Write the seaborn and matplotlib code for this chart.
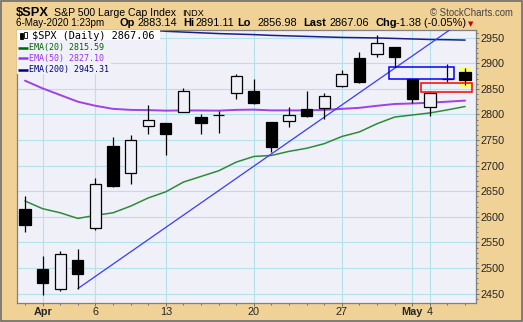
import numpy as np
import pandas as pd
import seaborn as sns
import matplotlib
matplotlib.use("Agg")
import matplotlib.pyplot as plt
from matplotlib.patches import Rectangle

# ---------------- data ----------------
days = ["Mar 31", "Apr 1", "Apr 2", "Apr 3", "Apr 6", "Apr 7", "Apr 8", "Apr 9",
        "Apr 13", "Apr 14", "Apr 15", "Apr 16", "Apr 17", "Apr 20", "Apr 21",
        "Apr 22", "Apr 23", "Apr 24", "Apr 27", "Apr 28", "Apr 29", "Apr 30",
        "May 1", "May 4", "May 5", "May 6"]
open_ = [2614.69, 2498.08, 2458.54, 2514.92, 2578.28, 2738.65, 2685.00, 2776.99,
         2782.46, 2805.10, 2795.64, 2799.34, 2842.43, 2845.62, 2784.81, 2787.89,
         2810.42, 2812.64, 2854.65, 2909.96, 2918.46, 2930.91, 2869.09, 2815.01,
         2868.88, 2883.14]
high = [2641.39, 2522.75, 2533.22, 2538.18, 2676.85, 2756.89, 2760.75, 2818.57,
        2782.46, 2851.85, 2801.88, 2806.51, 2879.22, 2868.98, 2785.54, 2815.10,
        2844.90, 2842.71, 2887.72, 2921.15, 2954.86, 2930.91, 2869.09, 2844.24,
        2898.23, 2891.11]
low = [2571.15, 2447.49, 2455.79, 2459.96, 2574.57, 2657.67, 2663.30, 2762.36,
       2721.17, 2805.10, 2761.54, 2764.32, 2830.88, 2820.43, 2727.10, 2775.95,
       2794.26, 2791.76, 2852.89, 2860.71, 2912.16, 2892.47, 2821.61, 2797.85,
       2863.55, 2856.98]
close = [2584.59, 2470.50, 2526.90, 2488.65, 2663.68, 2659.41, 2749.98, 2789.82,
         2761.63, 2846.06, 2783.36, 2799.55, 2874.56, 2823.16, 2736.56, 2799.31,
         2797.80, 2836.74, 2878.48, 2863.39, 2939.51, 2912.43, 2830.71, 2842.74,
         2868.44, 2867.06]
ema20 = [2631, 2616, 2608, 2597, 2603, 2608, 2621, 2637, 2649, 2668, 2679, 2690,
         2707, 2718, 2720, 2728, 2734, 2743, 2757, 2766, 2782, 2795, 2799, 2803,
         2809, 2815.59]
ema50 = [2866, 2851, 2838, 2825, 2817, 2811, 2809, 2808.5, 2807.5, 2808, 2807.8,
         2807.5, 2809, 2809.5, 2808, 2808, 2808, 2809, 2811, 2813, 2817, 2820.5,
         2821.5, 2823, 2825, 2827.10]
ema200 = [2990, 2985, 2980, 2976, 2973, 2970, 2968, 2965, 2962.5, 2961, 2959.5,
          2958, 2957, 2956, 2954.5, 2953.5, 2952.5, 2951.5, 2950.5, 2950, 2949.5,
          2948.5, 2947.5, 2946.5, 2946, 2945.31]
trend_days = [3, 14]              # Apr 3 low -> Apr 21 area
trend_values = [2459.96, 2723.0]
tick_pos = [1, 4, 8, 13, 18, 22, 23]
tick_labels = ["Apr", "6", "13", "20", "27", "May", "4"]
y_ticks = [2450, 2500, 2550, 2600, 2650, 2700, 2750, 2800, 2850, 2900, 2950]

# ---------------- style ----------------
W, H = 523, 322
TAN = "#F0D296"
BG = "#F0F0F8"
GRID = "#B4E2EA"
sns.set_theme(style="white")
plt.rcParams["font.family"] = ["Liberation Sans", "DejaVu Sans"]

fig = plt.figure(figsize=(W / 100, H / 100), dpi=100, facecolor=TAN)
L, R, T, B = 17, 476, 30.0, 303
ax = fig.add_axes([L / W, 1 - B / H, (R - L) / W, (B - T) / H])
ax.set_facecolor(BG)

df = pd.DataFrame({"i": np.arange(len(days)), "open": open_, "high": high,
                   "low": low, "close": close, "ema20": ema20,
                   "ema50": ema50, "ema200": ema200})

# grid
for v in y_ticks:
    ax.axhline(v, color=GRID, lw=0.8, zorder=0)
for p in tick_pos:
    ax.axvline(p, color=GRID, lw=0.8, zorder=0)

# EMA lines
sns.lineplot(data=df, x="i", y="ema20", color="#2E8B3A", lw=1.1, ax=ax, zorder=2)
sns.lineplot(data=df, x="i", y="ema50", color="#A040E6", lw=1.4, ax=ax, zorder=2)
sns.lineplot(data=df, x="i", y="ema200", color="#1C1C86", lw=1.1, ax=ax, zorder=2)

# trend line (extended)
slope = (trend_values[1] - trend_values[0]) / (trend_days[1] - trend_days[0])
tx = np.array([trend_days[0], 27.0])
ty = trend_values[0] + (tx - trend_days[0]) * slope
sns.lineplot(x=tx, y=ty, color="#3A3AFF", lw=0.9, ax=ax, zorder=3)

# highlight on last bar
last = len(days) - 1
ax.add_patch(Rectangle((last - 0.36, 2852), 0.72, 40.5, facecolor="#FFFF66",
                       edgecolor="none", zorder=1.5))

# candles
o = df["open"].values; c = df["close"].values
up = c >= o
lo_b = np.minimum(o, c); hb = np.abs(c - o)
ax.vlines(df["i"], df["low"], df["high"], color="black", lw=0.9, zorder=4)
ax.bar(df["i"][up], hb[up], bottom=lo_b[up], width=0.64, facecolor=BG,
       edgecolor="black", lw=0.9, zorder=5)
ax.bar(df["i"][~up], hb[~up], bottom=lo_b[~up], width=0.64, facecolor="black",
       edgecolor="black", lw=0.9, zorder=5)

# gap boxes
g1_lo, g1_hi = high[22], low[21]
ax.add_patch(Rectangle((20.65, g1_lo), 3.7, g1_hi - g1_lo, fill=False,
                       edgecolor="#0000FF", lw=1.1, zorder=6))
g2_lo, g2_hi = high[23], low[24]
ax.add_patch(Rectangle((22.5, g2_lo), 2.9, g2_hi - 2.5 - g2_lo, fill=False,
                       edgecolor="#FF0000", lw=1.1, zorder=6))

ax.set_xlim(-0.455, 25.62)
ax.set_ylim(2431.8, 2965.0)
ax.set_xlabel(""); ax.set_ylabel("")

# axes / ticks
ax.yaxis.tick_right()
ax.set_yticks(y_ticks)
ax.set_yticks(np.arange(2440, 2966, 10), minor=True)
ax.set_yticklabels([str(v) for v in y_ticks], fontsize=7.8)
ax.set_xticks(tick_pos)
ax.set_xticks(np.arange(len(days)), minor=True)
ax.set_xticklabels(tick_labels, fontsize=7.8)
for lab in ax.get_xticklabels():
    if lab.get_text() in ("Apr", "May"):
        lab.set_fontweight("bold")
ax.tick_params(axis="y", which="major", direction="out", length=2.2, width=0.7,
               color="#707070", pad=0.8, right=True, left=False)
ax.tick_params(axis="y", which="minor", direction="out", length=1.2, width=0.7,
               color="#707070", right=True, left=False)
ax.tick_params(axis="x", which="major", direction="out", length=2.2, width=0.7,
               color="#707070", pad=0.6, bottom=True)
ax.tick_params(axis="x", which="minor", direction="out", length=1.3, width=0.7,
               color="#707070", bottom=True)
for s in ax.spines.values():
    s.set_color("#808080"); s.set_linewidth(0.9)

# ---------------- legend inside plot ----------------
def axp(px, py):
    return ((px - L) / (R - L), (B - py) / (B - T))

x0, y0 = axp(17, 40.3); x1, y1 = axp(160, 30.0)
ax.add_patch(Rectangle((x0, y0), x1 - x0, y1 - y0, transform=ax.transAxes,
                       facecolor="white", edgecolor="none", zorder=7))
x0, y0 = axp(17, 74); x1, y1 = axp(111, 40.3)
ax.add_patch(Rectangle((x0, y0), x1 - x0, y1 - y0, transform=ax.transAxes,
                       facecolor=BG, edgecolor="none", zorder=7))
# candle icon
for (cx, yt, yb, filled) in [(21.5, 33.5, 38.5, True), (25.5, 32.5, 37.5, False)]:
    a0 = axp(cx - 1.3, yb); a1 = axp(cx + 1.3, yt)
    ax.add_patch(Rectangle(a0, a1[0] - a0[0], a1[1] - a0[1], transform=ax.transAxes,
                           facecolor="black" if filled else "white", edgecolor="black",
                           lw=0.6, zorder=8))
mono = "DejaVu Sans Mono"
tx_, ty_ = axp(31.5, 36.0)
ax.text(tx_, ty_, "$SPX (Daily) 2867.06", transform=ax.transAxes, fontsize=7.4,
        family=mono, va="center", ha="left", color="black", zorder=9)
for yy, txt, col in [(47.7, "EMA(20) 2815.59", "#006400"),
                     (58.3, "EMA(50) 2827.10", "#9933EE"),
                     (69.7, "EMA(200) 2945.31", "#000080")]:
    a = axp(17.5, yy); b = axp(28, yy)
    ax.plot([a[0], b[0]], [a[1], a[1]], transform=ax.transAxes, color=col, lw=1.8,
            solid_capstyle="butt", zorder=9, clip_on=False)
    p = axp(29.3, yy)
    ax.text(p[0], p[1], txt, transform=ax.transAxes, fontsize=6.0, family=mono,
            va="center", ha="left", color=col, zorder=9)

# ---------------- header ----------------
def ft(px, py, s, size, weight="normal", color="black", family=None):
    kw = {}
    if family:
        kw["family"] = family
    fig.text(px / W, 1 - py / H, s, fontsize=size, fontweight=weight, color=color,
             va="baseline", ha="left", **kw)

ft(16, 16, "$SPX", 9.3, "bold")
ft(54, 15.5, "S&P 500 Large Cap Index", 7.6)
ft(182, 15.5, "INDX", 6.6)
ft(430, 15.5, "\u00a9 StockCharts.com", 6.9, color="#444444")
ft(16, 26.5, "6-May-2020 1:23pm", 7.1)
for px, s, w in [(120, "Op", "bold"), (137.5, "2883.14", "normal"),
                 (183, "Hi", "bold"), (196, "2891.11", "normal"),
                 (237, "Lo", "bold"), (257.5, "2856.98", "normal"),
                 (303, "Last", "bold"), (329, "2867.06", "normal"),
                 (375, "Chg", "bold"), (396, "-1.38 (-0.05%)", "normal")]:
    ft(px, 26.5, s, 7.9, w)
ft(467.5, 26.0, "\u25bc", 5.0, color="#CC0000", family=["DejaVu Sans"])

# outer border
fig.patches.append(Rectangle((0.001, 0.002), 0.997, 0.996, transform=fig.transFigure,
                             fill=False, edgecolor="#6E6E6E", lw=1.2))

fig.savefig("out.png", dpi=100, facecolor=TAN)
